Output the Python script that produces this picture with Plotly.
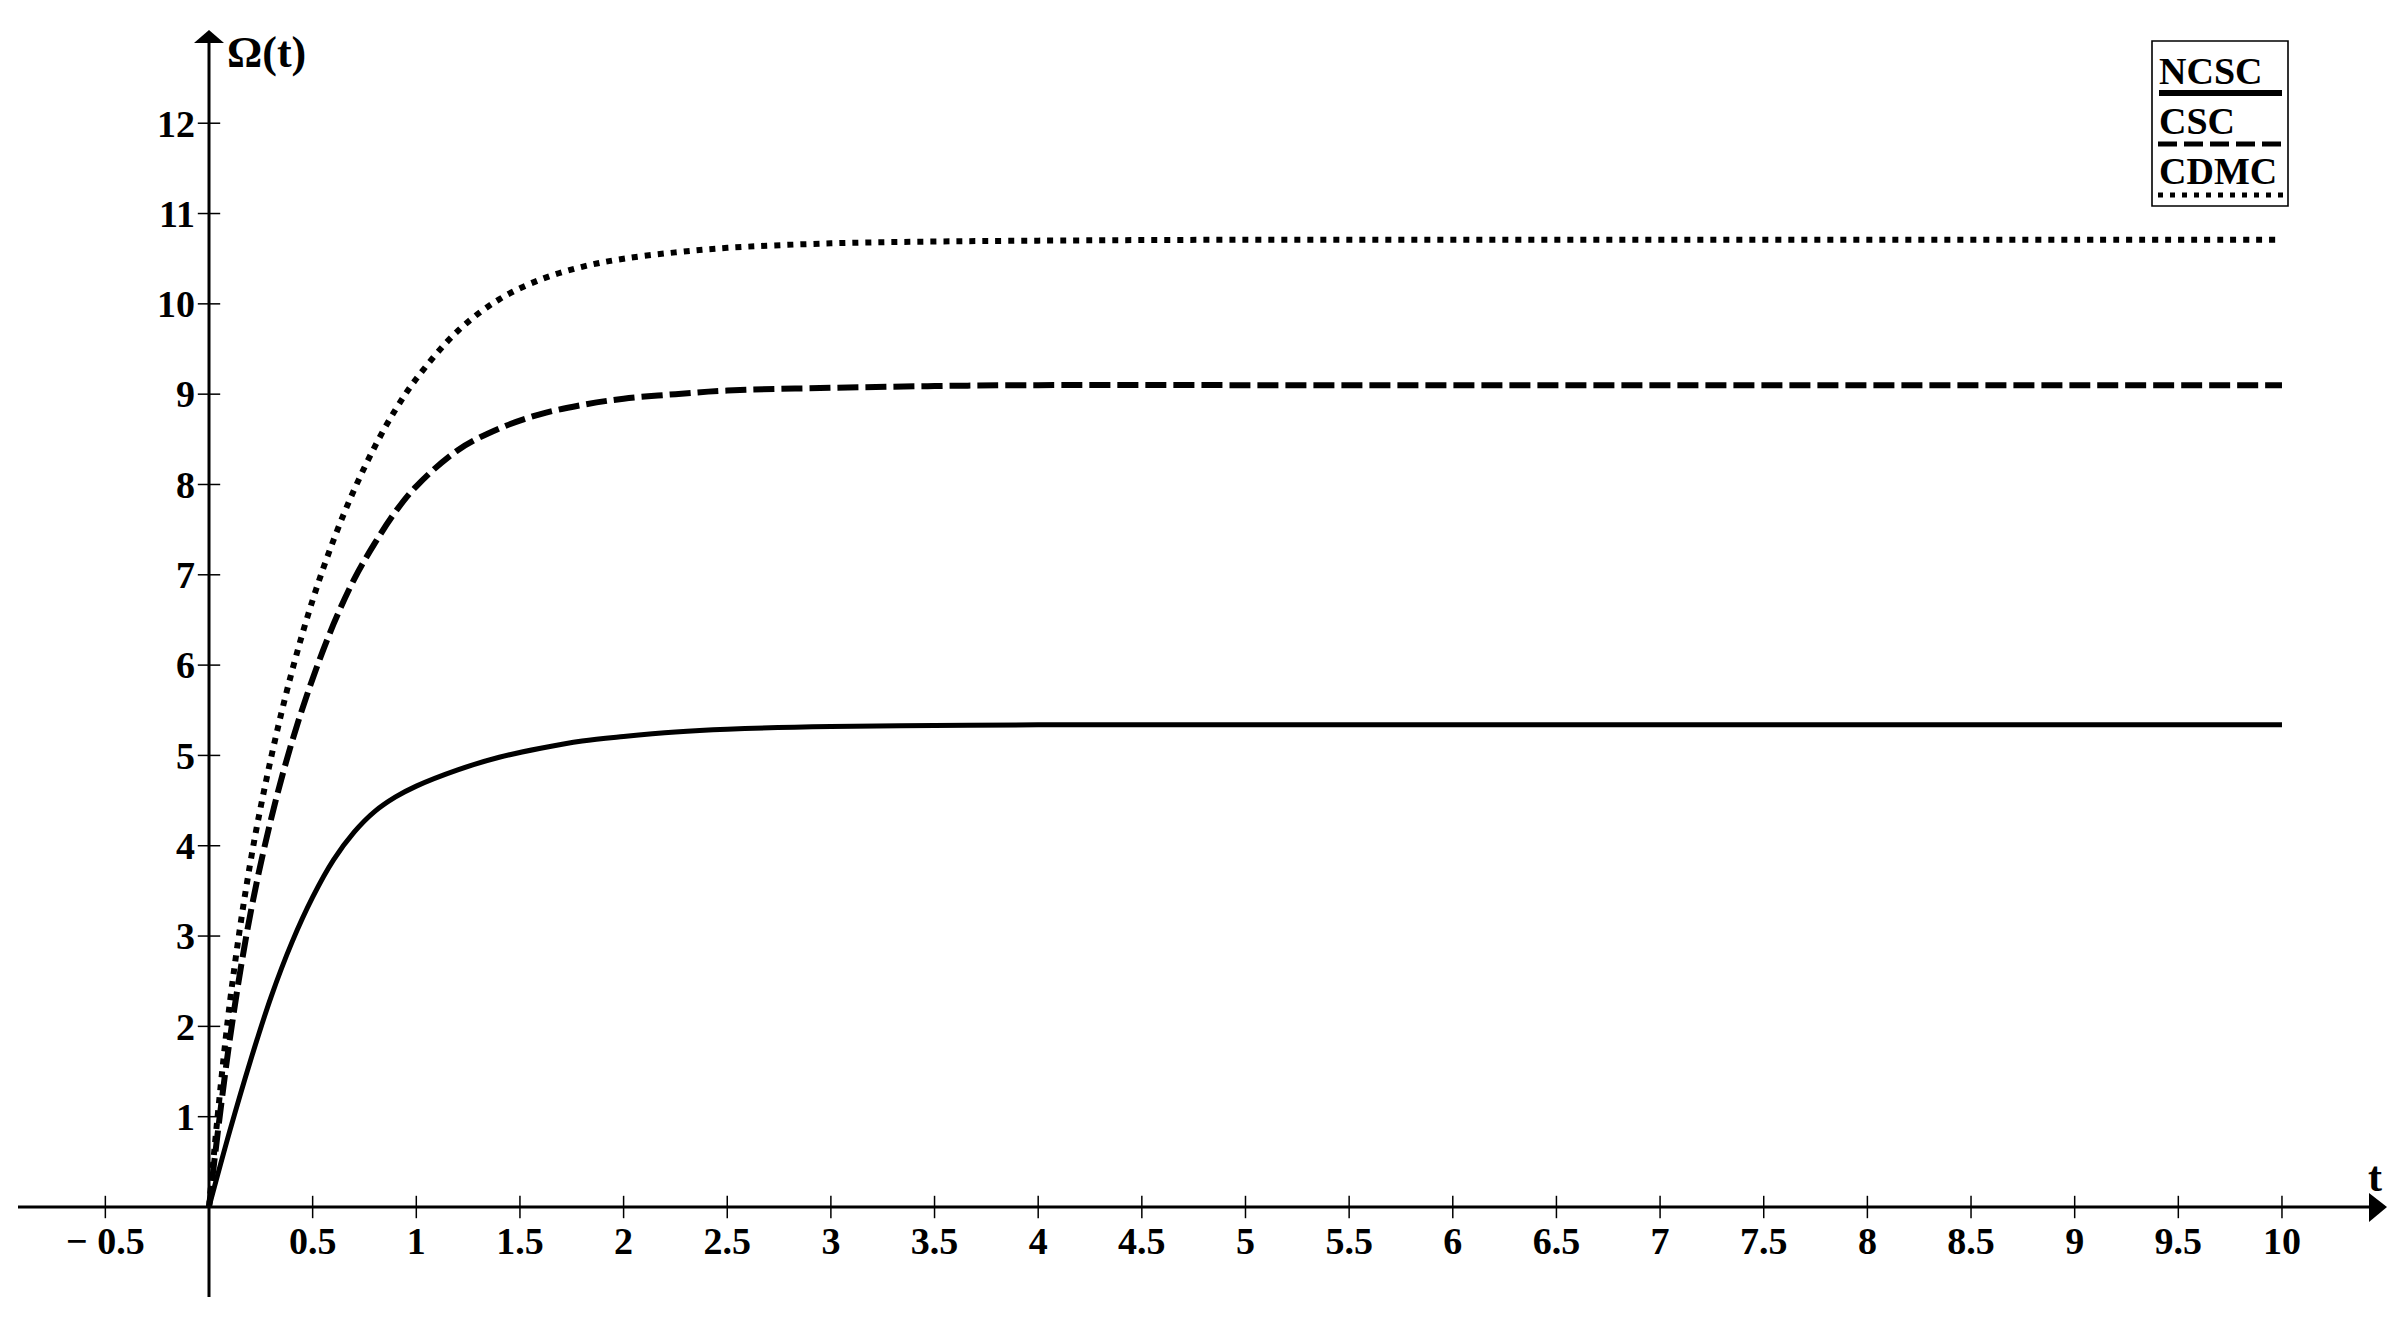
import plotly.graph_objects as go

# time samples and curve values
T = [0, 0.1, 0.2, 0.3, 0.4, 0.5, 0.6, 0.7, 0.8, 0.9, 1.0, 1.2, 1.4, 1.6, 1.8,
     2.0, 2.25, 2.5, 3.0, 3.5, 4.0, 5.0, 6.0, 7.0, 8.0, 9.0, 10.0]
NCSC = [0, 0.84, 1.62, 2.33, 2.93, 3.43, 3.84, 4.15, 4.38, 4.54, 4.66, 4.84, 4.98, 5.08, 5.16,
        5.21, 5.26, 5.29, 5.32, 5.33, 5.34, 5.34, 5.34, 5.34, 5.34, 5.34, 5.34]
CSC = [0, 1.85, 3.25, 4.30, 5.15, 5.85, 6.45, 6.95, 7.35, 7.70, 7.98, 8.38, 8.62, 8.78, 8.88,
       8.95, 9.00, 9.04, 9.07, 9.09, 9.10, 9.10, 9.10, 9.10, 9.10, 9.10, 9.10]
CDMC = [0, 2.25, 3.82, 4.98, 5.93, 6.72, 7.38, 7.94, 8.42, 8.83, 9.17, 9.70, 10.05, 10.27, 10.41,
        10.50, 10.57, 10.62, 10.67, 10.69, 10.70, 10.71, 10.71, 10.71, 10.71, 10.71, 10.71]

XTICKS = [-0.5, 0.5, 1, 1.5, 2, 2.5, 3, 3.5, 4, 4.5, 5, 5.5, 6, 6.5, 7, 7.5, 8, 8.5, 9, 9.5, 10]
XTICK_TEXT = ["− 0.5", "0.5", "1", "1.5", "2", "2.5", "3", "3.5", "4", "4.5", "5", "5.5",
              "6", "6.5", "7", "7.5", "8", "8.5", "9", "9.5", "10"]
YTICKS = [1, 2, 3, 4, 5, 6, 7, 8, 9, 10, 11, 12]

# the page body keeps its default 8px margin, so the figure is 16px smaller than the window
W, H = 2391, 1308
ML, MR, MT, MB = 10, 14, 24, 109
XR = [-0.9214, 10.497]
YR = [0, 13.01]
FONT = "Liberation Serif"
OFF = 8


def px(x):
    return (x - OFF - ML) / (W - ML - MR)


def py(y):
    return (H - MB - (y - OFF)) / (H - MT - MB)


x0frac = -XR[0] / (XR[1] - XR[0])
half = 15 / (W - ML - MR)

fig = go.Figure()
fig.add_trace(go.Scatter(x=T, y=NCSC, mode="lines", name="NCSC",
                         line=dict(color="black", width=5, shape="spline", smoothing=1.0)))
fig.add_trace(go.Scatter(x=T, y=CSC, mode="lines", name="CSC",
                         line=dict(color="black", width=6, dash="21px,7px", shape="spline", smoothing=1.0)))
fig.add_trace(go.Scatter(x=T, y=CDMC, mode="lines", name="CDMC",
                         line=dict(color="black", width=6, dash="6px,7px", shape="spline", smoothing=1.0)))

# tick marks crossing the axes
fig.add_trace(go.Scatter(x=XTICKS, y=[0] * len(XTICKS), mode="markers", cliponaxis=False,
                         marker=dict(symbol="line-ns", size=16, line=dict(color="black", width=1.5)),
                         hoverinfo="skip", showlegend=False))
fig.add_trace(go.Scatter(x=[0] * len(YTICKS), y=YTICKS, mode="markers", cliponaxis=False,
                         marker=dict(symbol="line-ew", size=16, line=dict(color="black", width=1.5)),
                         hoverinfo="skip", showlegend=False))

shapes = [
    # axes with arrowheads
    dict(type="line", xref="paper", yref="paper", x0=0, x1=px(2372), y0=0, y1=0,
         line=dict(color="black", width=3)),
    dict(type="line", xref="paper", yref="paper", x0=x0frac, x1=x0frac, y0=py(1297), y1=py(40),
         line=dict(color="black", width=3)),
    dict(type="path", xref="paper", yref="paper", fillcolor="black", line=dict(width=0),
         path=f"M {px(2369)} {py(1193)} L {px(2387)} {py(1207)} L {px(2369)} {py(1222)} Z"),
    dict(type="path", xref="paper", yref="paper", fillcolor="black", line=dict(width=0),
         path=f"M {x0frac - half} {py(43)} L {x0frac} {py(30)} L {x0frac + half} {py(43)} Z"),
    # legend box
    dict(type="rect", xref="paper", yref="paper", x0=px(2152), x1=px(2288), y0=py(41), y1=py(206),
         line=dict(color="black", width=1.6), fillcolor="white", layer="above"),
    dict(type="line", xref="paper", yref="paper", x0=px(2159), x1=px(2282), y0=py(93), y1=py(93),
         line=dict(color="black", width=6)),
    dict(type="line", xref="paper", yref="paper", x0=px(2158), x1=px(2284), y0=py(144), y1=py(144),
         line=dict(color="black", width=5, dash="19px,7px")),
    dict(type="line", xref="paper", yref="paper", x0=px(2158), x1=px(2284), y0=py(195), y1=py(195),
         line=dict(color="black", width=5, dash="5px,7px")),
]

bold = dict(family=FONT, color="black", weight="bold")
annotations = [
    dict(text="Ω(t)", xref="paper", yref="paper", x=px(225), y=py(53), xanchor="left",
         yanchor="middle", showarrow=False, font=dict(size=44, **bold)),
    dict(text="t", xref="paper", yref="paper", x=px(2375), y=py(1177), xanchor="center",
         yanchor="middle", showarrow=False, font=dict(size=42, **bold)),
    dict(text="NCSC", xref="paper", yref="paper", x=px(2157), y=py(71), xanchor="left",
         yanchor="middle", showarrow=False, font=dict(size=38, **bold)),
    dict(text="CSC", xref="paper", yref="paper", x=px(2157), y=py(121), xanchor="left",
         yanchor="middle", showarrow=False, font=dict(size=38, **bold)),
    dict(text="CDMC", xref="paper", yref="paper", x=px(2157), y=py(171), xanchor="left",
         yanchor="middle", showarrow=False, font=dict(size=38, **bold)),
]

fig.update_layout(
    width=W, height=H,
    margin=dict(l=ML, r=MR, t=MT, b=MB),
    paper_bgcolor="white", plot_bgcolor="white",
    showlegend=False,
    shapes=shapes,
    annotations=annotations,
    xaxis=dict(range=XR, showgrid=False, zeroline=False, showline=False, ticks="",
               tickvals=XTICKS, ticktext=XTICK_TEXT, ticklabelstandoff=8,
               tickfont=dict(size=38, **bold)),
    yaxis=dict(range=YR, showgrid=False, zeroline=False, showline=False, ticks="",
               anchor="free", position=x0frac, tickvals=YTICKS, ticklabelstandoff=14,
               tickfont=dict(size=38, **bold)),
)

fig.write_html("out.html")
